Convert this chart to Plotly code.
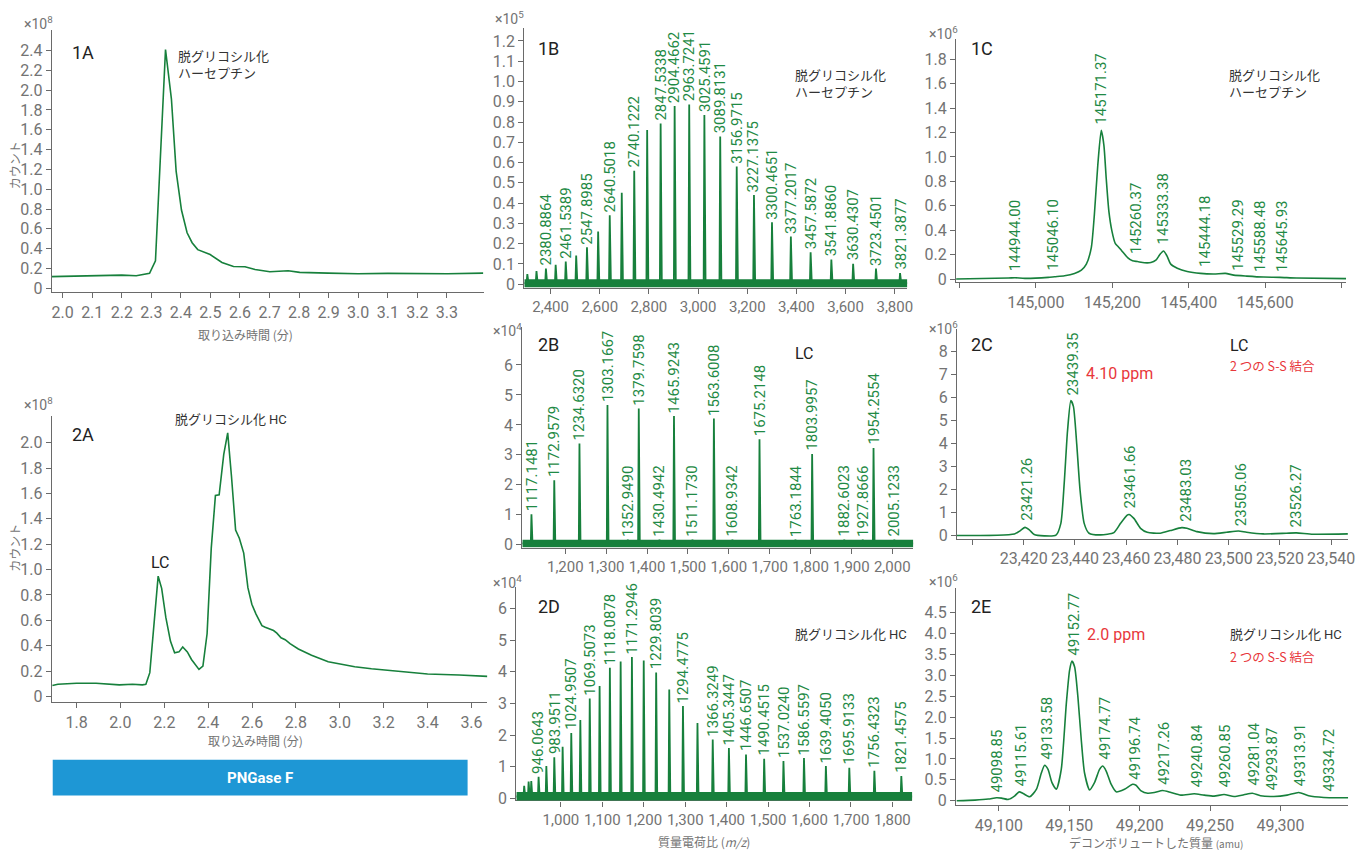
import plotly.graph_objects as go

W, H = 1370, 850
GREEN = "#17803c"
LGREEN = "#1f8a45"
GRAY = "#737373"
AXIS = "#6a6a6a"
RED = "#e8373b"
NARROW = "Noto Sans Condensed, Liberation Sans Narrow, Roboto, sans-serif"
JP = "Noto Sans CJK JP, sans-serif"

# ---------------- data ----------------
# 1A  total ion chromatogram, deglycosylated Herceptin (x1e8 counts)
t_1a = [1.961, 2.100, 2.200, 2.249, 2.281, 2.294, 2.314, 2.348, 2.368, 2.384, 2.402, 2.421,
        2.438, 2.457, 2.499, 2.539, 2.578, 2.617, 2.651, 2.701, 2.763, 2.802, 2.898, 2.999,
        3.100, 3.200, 3.251, 3.302, 3.423]
c_1a = [0.117, 0.127, 0.133, 0.127, 0.143, 0.150, 0.277, 2.41, 1.91, 1.18, 0.79, 0.56,
        0.46, 0.39, 0.34, 0.26, 0.22, 0.217, 0.19, 0.167, 0.177, 0.16, 0.153, 0.147,
        0.150, 0.150, 0.143, 0.147, 0.153]

# 2A  chromatogram after reduction (x1e8 counts)
t_2a = [1.690, 1.715, 1.800, 1.889, 1.995, 2.055, 2.100, 2.116, 2.134, 2.149, 2.172, 2.188,
        2.207, 2.228, 2.247, 2.267, 2.284, 2.305, 2.324, 2.358, 2.376, 2.395, 2.414, 2.433,
        2.450, 2.471, 2.489, 2.506, 2.525, 2.542, 2.562, 2.581, 2.599, 2.618, 2.645, 2.660,
        2.698, 2.713, 2.732, 2.751, 2.773, 2.811, 2.871, 2.947, 3.000, 3.068, 3.144, 3.264,
        3.400, 3.544, 3.672]
c_2a = [0.086, 0.096, 0.104, 0.104, 0.091, 0.096, 0.091, 0.096, 0.187, 0.468, 0.948, 0.852,
        0.623, 0.436, 0.343, 0.351, 0.390, 0.351, 0.291, 0.213, 0.239, 0.494, 1.169, 1.584,
        1.590, 1.909, 2.078, 1.740, 1.312, 1.247, 1.130, 0.857, 0.727, 0.649, 0.558, 0.545,
        0.519, 0.499, 0.462, 0.447, 0.416, 0.374, 0.325, 0.273, 0.255, 0.234, 0.218, 0.200,
        0.177, 0.169, 0.158]

# 1B  m/z spectrum, intact (x1e5)
lab_1b = ["2380.8864", "2461.5389", "2547.8985", "2640.5018", "2740.1222", "2847.5338",
          "2904.4662", "2963.7241", "3025.4591", "3089.8131", "3156.9715", "3227.1375",
          "3300.4651", "3377.2017", "3457.5872", "3541.8860", "3630.4307", "3723.4501",
          "3821.3877"]
h_1b = [0.077, 0.112, 0.182, 0.34, 0.56, 0.793, 0.879, 0.886, 0.834, 0.728, 0.581, 0.44,
        0.305, 0.235, 0.158, 0.122, 0.101, 0.077, 0.055]
mz_1b_other = [2305.3, 2342.5, 2420.5, 2504.0, 2593.3, 2689.4, 2792.7]
h_1b_other = [0.05, 0.065, 0.096, 0.142, 0.26, 0.451, 0.76]

# 2B  m/z spectrum, light chain (x1e4)
lab_2b = ["1117.1481", "1172.9579", "1234.6320", "1303.1667", "1352.9490", "1379.7598",
          "1430.4942", "1465.9243", "1511.1730", "1563.6008", "1608.9342", "1675.2148",
          "1763.1844", "1803.9957", "1882.6023", "1927.8666", "1954.2554", "2005.1233"]
h_2b = [1.02, 2.15, 3.38, 4.66, 0.17, 4.55, 0.17, 4.30, 0.17, 4.21, 0.17, 3.52,
        0.17, 3.03, 0.17, 0.17, 3.23, 0.17]

# 2D  m/z spectrum, heavy chain (x1e4)
lab_2d = ["946.0643", "983.9511", "1024.9507", "1069.5073", "1118.0878", "1171.2946",
          "1229.8039", "1294.4775", "1366.3249", "1405.3447", "1446.6507", "1490.4515",
          "1537.0240", "1586.5597", "1639.4050", "1695.9133", "1756.4323", "1821.4575"]
h_2d = [0.68, 1.30, 2.07, 3.16, 4.13, 4.47, 3.98, 2.92, 1.86, 1.59, 1.39, 1.25,
        1.18, 1.28, 1.02, 0.97, 0.87, 0.71]
mz_2d_other = [911.3, 922.0, 928.4, 964.8, 1004.1, 1046.8, 1093.3, 1144.1, 1199.8, 1261.4, 1329.5]
h_2d_other = [0.40, 0.53, 0.55, 1.02, 1.63, 2.48, 3.55, 4.33, 4.36, 3.44, 2.38]

# 1C  deconvoluted mass, intact (x1e6)
m_1c = [144791, 144928, 144945, 144971, 145032, 145049, 145075, 145101, 145119, 145132,
        145145, 145153, 145162, 145171, 145178, 145184, 145191, 145199, 145208, 145216,
        145225, 145240, 145253, 145266, 145284, 145301, 145314, 145325, 145334, 145343,
        145353, 145370, 145396, 145431, 145466, 145496, 145518, 145552, 145596, 145639,
        145682, 145812]
i_1c = [0.0, 0.008, 0.011, 0.005, 0.0135, 0.019, 0.027, 0.046, 0.073, 0.122,
        0.257, 0.528, 0.934, 1.218, 1.096, 0.826, 0.555, 0.393, 0.29, 0.263,
        0.23, 0.176, 0.149, 0.143, 0.133, 0.135, 0.154, 0.203, 0.23, 0.19,
        0.122, 0.089, 0.062, 0.046, 0.041, 0.046, 0.032, 0.024, 0.016, 0.0135,
        0.008, 0.003]
lab_1c = ["144944.00", "145046.10", "145171.37", "145260.37", "145333.38", "145444.18",
          "145529.29", "145588.48", "145645.93"]
h_1c = [0.04, 0.045, 1.24, 0.18, 0.257, 0.075, 0.04, 0.035, 0.035]

# 2C  deconvoluted mass, light chain (x1e6)
m_2c = [23393.7, 23416.4, 23418.7, 23420.5, 23422.2, 23424.1, 23428.0, 23432.6, 23434.5,
        23435.8, 23437.1, 23438.4, 23439.4, 23440.7, 23442.0, 23443.6, 23445.5, 23450.0,
        23455.2, 23457.8, 23460.4, 23461.1, 23463.0, 23465.6, 23468.2, 23473.3, 23477.2,
        23481.7, 23483.7, 23487.6, 23494.0, 23499.2, 23503.8, 23507.0, 23513.5, 23522.5,
        23526.4, 23532.9, 23546.5]
i_2c = [0.014, 0.086, 0.23, 0.37, 0.26, 0.057, 0.0, 0.03, 0.545,
        2.27, 4.56, 5.88, 5.63, 3.99, 1.98, 0.545, 0.115, 0.043,
        0.143, 0.545, 0.90, 0.93, 0.76, 0.33, 0.158, 0.115, 0.23,
        0.358, 0.33, 0.186, 0.10, 0.158, 0.215, 0.158, 0.086, 0.115,
        0.13, 0.072, 0.086]
lab_2c = ["23421.26", "23439.35", "23461.66", "23483.03", "23505.06", "23526.27"]
h_2c = [0.55, 5.96, 1.06, 0.47, 0.30, 0.26]

# 2E  deconvoluted mass, heavy chain (x1e6)
m_2e = [49070.0, 49083.0, 49092.5, 49098.3, 49101.9, 49106.6, 49111.3, 49114.4, 49117.2,
        49121.9, 49126.7, 49130.2, 49132.5, 49134.9, 49137.7, 49140.8, 49144.3, 49147.9,
        49150.2, 49151.9, 49153.8, 49156.1, 49158.5, 49160.8, 49164.4, 49167.9, 49171.5,
        49173.8, 49176.2, 49179.7, 49183.3, 49189.2, 49195.0, 49197.4, 49201.0, 49205.7,
        49210.4, 49216.3, 49222.2, 49229.2, 49238.7, 49245.8, 49252.8, 49259.9, 49267.0,
        49274.0, 49280.0, 49285.8, 49295.3, 49304.7, 49313.0, 49320.0, 49330.7, 49348.3]
i_2e = [0.0, 0.016, 0.04, 0.071, 0.063, 0.032, 0.118, 0.213, 0.174,
        0.095, 0.276, 0.67, 0.85, 0.75, 0.434, 0.276, 0.75, 2.33,
        3.12, 3.34, 3.20, 2.49, 1.46, 0.67, 0.26, 0.434, 0.75,
        0.83, 0.71, 0.395, 0.213, 0.276, 0.395, 0.37, 0.237, 0.18,
        0.197, 0.245, 0.197, 0.134, 0.166, 0.134, 0.11, 0.15, 0.103,
        0.142, 0.18, 0.118, 0.103, 0.134, 0.197, 0.118, 0.079, 0.071]
lab_2e = ["49098.85", "49115.61", "49133.58", "49152.77", "49174.77", "49196.74", "49217.26",
          "49240.84", "49260.85", "49281.04", "49293.87", "49313.91", "49334.72"]
h_2e = [0.12, 0.28, 0.90, 3.39, 0.90, 0.43, 0.32, 0.25, 0.24, 0.28, 0.18, 0.26, 0.14]

# ---------------- helpers ----------------
def px(x):
    return x / W


def py(y):
    return 1 - y / H


def sticks(mz, h, half_w, base, xmin, xmax):
    pts = sorted(zip(mz, h))
    xs, ys = [xmin], [base]
    for m, v in pts:
        xs += [m - half_w, m, m + half_w * 1.6]
        ys += [base, v, base]
    xs.append(xmax)
    ys.append(base)
    return xs, ys


fig = go.Figure()
annotations = []
shapes = []

panels = {
    "1A": dict(xd=(52, 486), yd=(30, 295), xr=(1.963, 3.424), yr=(-0.04, 2.61)),
    "2A": dict(xd=(52, 490), yd=(420, 709), xr=(1.687, 3.673), yr=(-0.047, 2.211)),
    "1B": dict(xd=(527, 912), yd=(28, 291), xr=(2293, 3851), yr=(-0.02, 1.265)),
    "2B": dict(xd=(525, 918), yd=(330, 553), xr=(1094.8, 2051.6), yr=(-0.1, 7.27)),
    "2D": dict(xd=(519, 917), yd=(593, 808), xr=(892.4, 1848), yr=(-0.063, 6.67)),
    "1C": dict(xd=(961, 1353), yd=(39, 285), xr=(144791, 145812), yr=(-0.027, 1.97)),
    "2C": dict(xd=(962, 1355), yd=(332, 544), xr=(23394, 23546.6), yr=(-0.13, 9.0)),
    "2E": dict(xd=(961, 1355), yd=(594, 813), xr=(49069.6, 49348), yr=(-0.11, 5.08)),
}


def ylabels(vals, fmt):
    return [("0" if v == 0 else fmt.format(v)) for v in vals]


yt = {
    "1A": [round(0.2 * k, 1) for k in range(13)],
    "2A": [round(0.2 * k, 1) for k in range(11)],
    "1B": [round(0.1 * k, 1) for k in range(13)],
    "2B": list(range(7)),
    "2D": list(range(7)),
    "1C": [round(0.2 * k, 1) for k in range(10)],
    "2C": list(range(9)),
    "2E": [round(0.5 * k, 1) for k in range(10)],
}
yfmt = {"1A": "{:.1f}", "2A": "{:.1f}", "1B": "{:.1f}", "2B": "{:d}", "2D": "{:d}",
        "1C": "{:.1f}", "2C": "{:d}", "2E": "{:.1f}"}

xt = {
    "1A": [round(2.0 + 0.1 * k, 1) for k in range(14)],
    "2A": [round(1.8 + 0.2 * k, 1) for k in range(10)],
    "1B": list(range(2400, 3801, 200)),
    "2B": list(range(1200, 2001, 100)),
    "2D": list(range(1000, 1801, 100)),
    "1C": list(range(144800, 145801, 200)),
    "2C": list(range(23400, 23541, 20)),
    "2E": list(range(49100, 49301, 50)),
}


def xlabels(name, vals):
    out = []
    for v in vals:
        if name in ("1A", "2A"):
            out.append("{:.1f}".format(v))
        elif name == "1C" and v in (144800, 145800):
            out.append("")
        elif name == "2C" and v == 23400:
            out.append("")
        else:
            out.append("{:,}".format(v))
    return out


order = ["1A", "2A", "1B", "2B", "2D", "1C", "2C", "2E"]
axmap = {}
layout_axes = {}
for i, name in enumerate(order, start=1):
    p = panels[name]
    xa = "xaxis" if i == 1 else f"xaxis{i}"
    ya = "yaxis" if i == 1 else f"yaxis{i}"
    xref = "x" if i == 1 else f"x{i}"
    yref = "y" if i == 1 else f"y{i}"
    axmap[name] = (xref, yref)
    xsize = 15 if name in ("2B", "2D", "1B") else 16
    common = dict(showgrid=False, zeroline=False, showline=True, linecolor=AXIS, linewidth=1.3,
                  ticks="outside", ticklen=5, tickwidth=1.2, tickcolor=AXIS, fixedrange=True,
                  tickangle=0)
    layout_axes[xa] = dict(domain=[px(p["xd"][0]), px(p["xd"][1])], range=list(p["xr"]),
                           anchor=yref, tickvals=xt[name], ticktext=xlabels(name, xt[name]),
                           tickfont=dict(family=NARROW, size=xsize, color=GRAY), **common)
    layout_axes[ya] = dict(domain=[py(p["yd"][1]), py(p["yd"][0])], range=list(p["yr"]),
                           anchor=xref, tickvals=yt[name], ticktext=ylabels(yt[name], yfmt[name]),
                           tickfont=dict(family=NARROW, size=16, color=GRAY), **common)

line = dict(color=GREEN, width=1.6)

fig.add_trace(go.Scatter(x=t_1a, y=c_1a, mode="lines", line=line, xaxis=axmap["1A"][0], yaxis=axmap["1A"][1]))
fig.add_trace(go.Scatter(x=t_2a, y=c_2a, mode="lines", line=line, xaxis=axmap["2A"][0], yaxis=axmap["2A"][1]))

noise = {"1B": (-0.015, 0.025), "2B": (-0.08, 0.17), "2D": (-0.08, 0.2)}
spec = {
    "1B": ([float(s) for s in lab_1b] + mz_1b_other, h_1b + h_1b_other, 3.0),
    "2B": ([float(s) for s in lab_2b], h_2b, 1.6),
    "2D": ([float(s) for s in lab_2d] + mz_2d_other, h_2d + h_2d_other, 1.6),
}
for name, (mz, hh, hw) in spec.items():
    xr_, yr_ = axmap[name]
    p = panels[name]
    base = sum(noise[name]) / 2
    xs, ys = sticks(mz, hh, hw, base, p["xr"][0], p["xr"][1])
    fig.add_trace(go.Scatter(x=xs, y=ys, mode="lines", line=dict(color=GREEN, width=1.8),
                             xaxis=xr_, yaxis=yr_))
    shapes.append(dict(type="rect", xref=xr_, yref=yr_, x0=p["xr"][0], x1=p["xr"][1],
                       y0=noise[name][0], y1=noise[name][1], fillcolor=GREEN,
                       line=dict(width=0), layer="above"))

for name, (mx, iy) in {"1C": (m_1c, i_1c), "2C": (m_2c, i_2c), "2E": (m_2e, i_2e)}.items():
    xr_, yr_ = axmap[name]
    fig.add_trace(go.Scatter(x=mx, y=iy, mode="lines",
                             line=dict(color=GREEN, width=1.6, shape="spline", smoothing=0.6),
                             xaxis=xr_, yaxis=yr_))

labsets = {"1B": (lab_1b, h_1b), "2B": (lab_2b, h_2b), "2D": (lab_2d, h_2d),
           "1C": (lab_1c, h_1c), "2C": (lab_2c, h_2c), "2E": (lab_2e, h_2e)}
for name, (labs, hh) in labsets.items():
    xr_, yr_ = axmap[name]
    for s, v in zip(labs, hh):
        annotations.append(dict(x=float(s), y=v, xref=xr_, yref=yr_, text=s, showarrow=False,
                                textangle=-90, xanchor="center", yanchor="bottom", yshift=1,
                                font=dict(family=NARROW, size=15, color=LGREEN)))


def txt(x, y, text, size=14, color="#333333", family=JP, xanchor="left", angle=0,
        yanchor="middle", **kw):
    annotations.append(dict(x=px(x), y=py(y), xref="paper", yref="paper", text=text, showarrow=False,
                            xanchor=xanchor, yanchor=yanchor, textangle=angle,
                            font=dict(family=family, size=size, color=color), **kw))


for name, (x, y) in {"1A": (70, 53), "2A": (70, 439), "1B": (539, 49), "2B": (539, 348),
                     "2D": (539, 612), "1C": (974, 49), "2C": (974, 348), "2E": (974, 612)}.items():
    txt(x, y, name, size=18, color="#222222", family="Roboto, sans-serif")

for x, y, e in [(22, 23, "8"), (22, 408, "8"), (496, 18, "5"), (494, 333, "4"), (494, 588, "4"),
                (932, 33, "6"), (932, 331, "6"), (932, 587, "6")]:
    txt(x, y, "×10<sup>" + e + "</sup>", size=14, color=GRAY, family=NARROW)

HC = "<span style='font-family:Roboto, sans-serif;font-size:13px'>HC</span>"
txt(177, 65, "脱グリコシル化<br>ハーセプチン", size=13, align="left")
txt(174, 422, "脱グリコシル化 " + HC, size=13)
txt(150, 568, "LC", size=16, family=NARROW, color="#222222")
txt(797, 84, "脱グリコシル化<br>ハーセプチン", size=13, align="left")
txt(797, 357, "LC", size=16, family=NARROW, color="#222222")
txt(797, 640, "脱グリコシル化 " + HC, size=13)
txt(1233, 84, "脱グリコシル化<br>ハーセプチン", size=13, align="left")
txt(1234, 349, "LC", size=16, family=NARROW, color="#222222")
txt(1234, 369, "2 つの S-S 結合", size=12.5, color=RED)
txt(1090, 377, "4.10 ppm", size=16, family=NARROW, color=RED)
txt(1234, 640, "脱グリコシル化 " + HC, size=13)
txt(1234, 663, "2 つの S-S 結合", size=12.5, color=RED)
txt(1091, 641, "2.0 ppm", size=16, family=NARROW, color=RED)

txt(247, 338, "取り込み時間 (分)", size=12, color=GRAY, xanchor="center")
txt(257, 748, "取り込み時間 (分)", size=12, color=GRAY, xanchor="center")
txt(15, 167, "カウント", size=12, color=GRAY, xanchor="center", angle=-90)
txt(15, 553, "カウント", size=12, color=GRAY, xanchor="center", angle=-90)
txt(708, 841, "質量電荷比 (<i>m/z</i>)", size=12, color=GRAY, xanchor="center", yshift=-8)
txt(1162, 842, "デコンボリュートした質量 <span style='font-size:10px'>(amu)</span>", size=12,
    color=GRAY, xanchor="center", yshift=-8)

shapes.append(dict(type="rect", xref="paper", yref="paper", x0=px(53), x1=px(470), y0=py(803),
                   y1=py(767), fillcolor="#1e97d5", line=dict(width=0)))
txt(261, 785, "<b>PNGase F</b>", size=15, color="white", family=NARROW, xanchor="center")

fig.update_layout(width=W, height=H, margin=dict(l=0, r=0, t=0, b=0), paper_bgcolor="white",
                  plot_bgcolor="white", showlegend=False, annotations=annotations, shapes=shapes,
                  **layout_axes)
fig.write_html("out.html")
